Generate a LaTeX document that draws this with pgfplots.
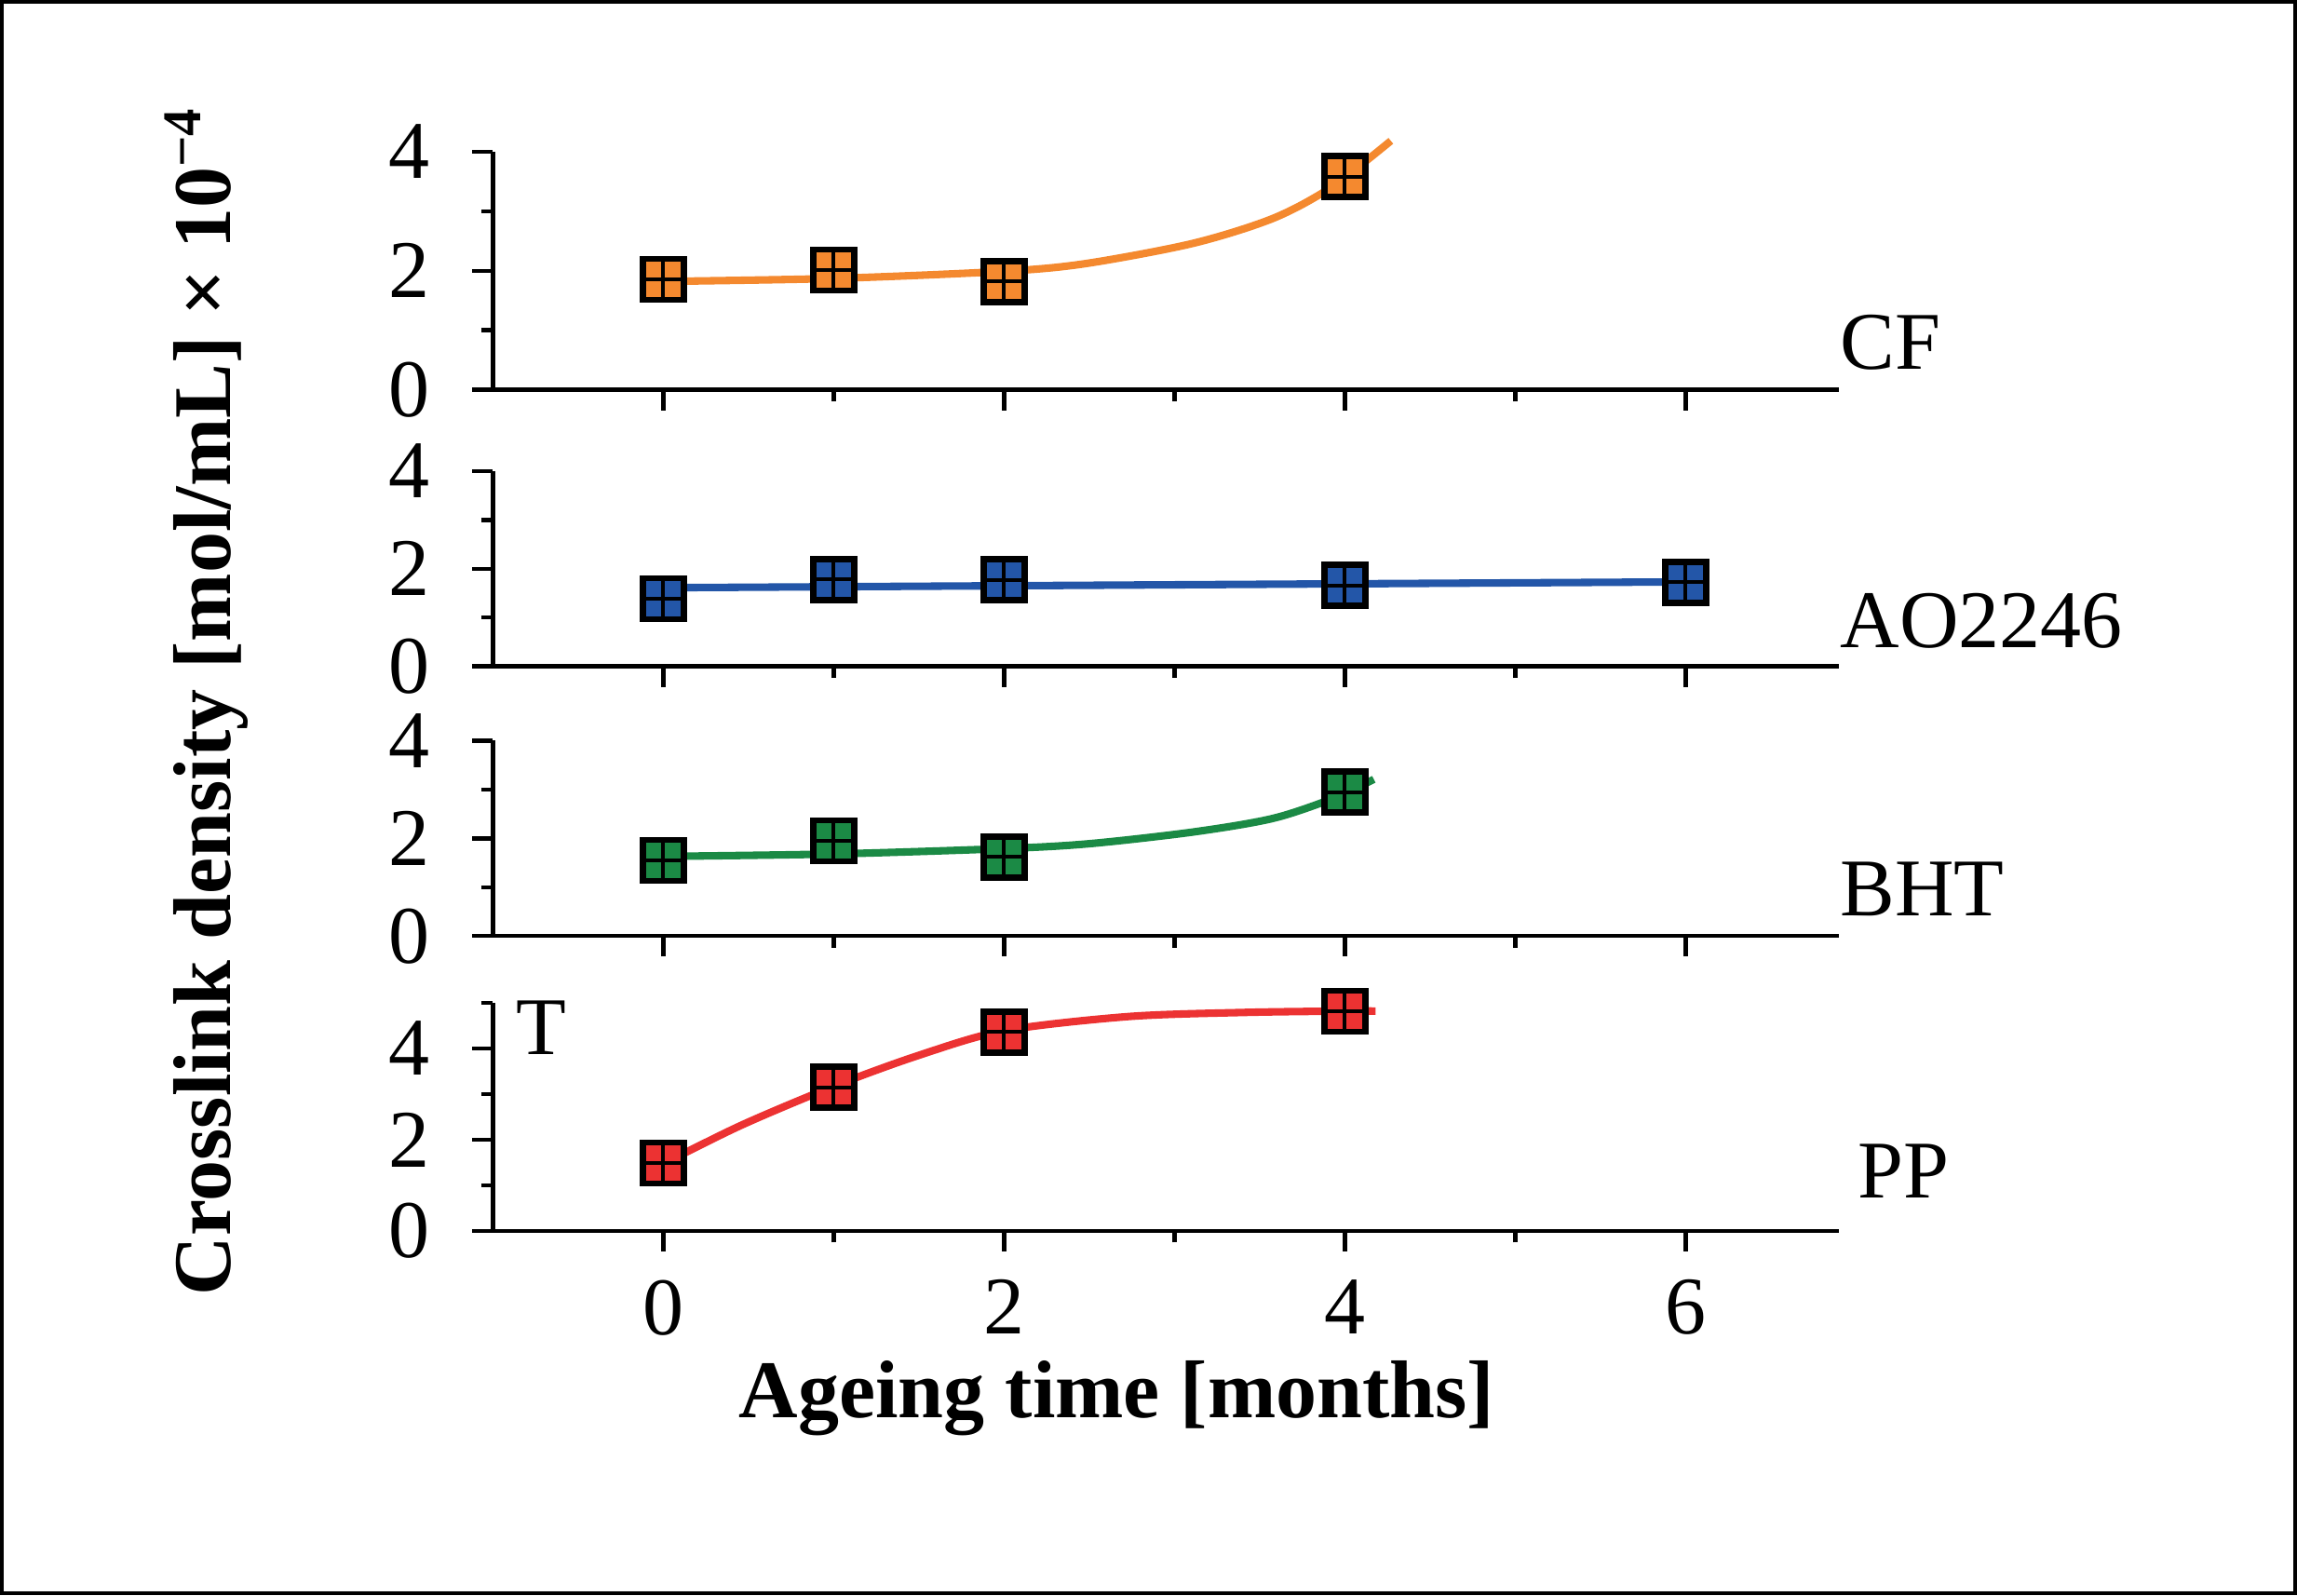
\documentclass[12pt,border=0pt]{standalone}
\usepackage{fontspec}
\setmainfont{Liberation Serif}
\usepackage{pgfplots}
\pgfplotsset{compat=1.18}
\usepackage{pgfplotstable}

\definecolor{cforange}{HTML}{F4892F}
\definecolor{aoblue}{HTML}{2356A8}
\definecolor{bhtgreen}{HTML}{1B8A45}
\definecolor{ppred}{HTML}{EC3232}

% measured points (x = months, y = crosslink density)
\pgfplotstableread{
x y e
0 1.855 0
1 2.01 0
2 1.82 0.09
4 3.58 0.27
}\cfpts
\pgfplotstableread{
x y
0 1.82
1 1.87
2 1.99
2.48 2.12
3.11 2.46
3.58 2.88
3.92 3.40
4.27 4.18
}\cffit

\pgfplotstableread{
x y
0 1.385
1 1.78
2 1.77
4 1.66
6 1.72
}\aopts
\pgfplotstableread{
x y
0 1.61
2 1.65
4 1.69
6 1.73
}\aofit

\pgfplotstableread{
x y
0 1.55
1 1.95
2 1.62
4 2.95
}\bhtpts
\pgfplotstableread{
x y
0 1.63
1 1.68
2 1.79
2.5 1.89
3.11 2.13
3.58 2.41
3.94 2.83
4.17 3.21
}\bhtfit

\pgfplotstableread{
x y
0 1.49
1 3.15
2 4.36
4 4.82
}\pppts
\pgfplotstableread{
x y
0 1.47
0.46 2.32
1 3.17
1.5 3.85
2 4.39
2.73 4.70
3.41 4.79
4 4.82
4.18 4.82
}\ppfit

\pgfplotsset{
  panel/.style={
    scale only axis, width=197.2pt,
    xmin=-1, xmax=6.9, ymin=0,
    axis x line*=bottom, axis y line*=left,
    axis line style={line width=0.6pt, black},
    xtick={0,2,4,6}, minor xtick={1,3,5},
    ytick={0,2,4},
    tick align=outside,
    major tick length=3pt, minor tick length=1.7pt,
    tick style={black, line width=0.6pt},
    yticklabel style={xshift=-2pt},
    /pgf/number format/assume math mode=true,
    ticklabel style={font=\fontsize{12}{14}\selectfont},
    clip=false,
  },
  pts/.style={only marks, mark=square*, mark size=3.0pt,
    mark options={fill=#1, draw=black, line width=0.9pt}},
  cross/.style={only marks, mark=+, mark size=2.6pt,
    mark options={black, line width=0.55pt}},
  fit/.style={no marks, smooth, #1, line width=1.1pt},
}

\begin{document}
\begin{tikzpicture}
\draw[line width=0.6pt] (0.3pt,-0.3pt) rectangle (336.2pt,-233.4pt);

% CF
\begin{axis}[panel, at={(72.2pt,-57.1pt)}, anchor=south west,
  height=34.9pt, ymax=4, minor ytick={1,3}, xticklabels={}]
\addplot[pts=cforange] table[x=x,y=y] {\cfpts};
\addplot[cross] table[x=x,y=y] {\cfpts};
\addplot[only marks, mark=*, mark size=0.01pt, mark options={draw=none, fill=none},
  error bars/.cd, y dir=both, y explicit,
  error bar style={draw=black, line width=0.55pt},
  error mark options={draw=black, rotate=90, mark size=2.6pt, line width=0.55pt}]
  table[x=x,y=y,y error=e] {\cfpts};
\addplot[fit=cforange] table[x=x,y=y] {\cffit};
\node[anchor=base west, inner sep=0, yshift=3pt] at (rel axis cs:1,0) {CF};
\end{axis}

% AO2246
\begin{axis}[panel, at={(72.2pt,-97.6pt)}, anchor=south west,
  height=28.6pt, ymax=4, minor ytick={1,3}, xticklabels={}]
\addplot[pts=aoblue] table[x=x,y=y] {\aopts};
\addplot[cross] table[x=x,y=y] {\aopts};
\addplot[fit=aoblue] table[x=x,y=y] {\aofit};
\node[anchor=base west, inner sep=0, yshift=2.7pt] at (rel axis cs:1,0) {AO2246};
\end{axis}

% BHT
\begin{axis}[panel, at={(72.2pt,-137.1pt)}, anchor=south west,
  height=28.6pt, ymax=4, minor ytick={1,3}, xticklabels={}]
\addplot[pts=bhtgreen] table[x=x,y=y] {\bhtpts};
\addplot[cross] table[x=x,y=y] {\bhtpts};
\addplot[fit=bhtgreen] table[x=x,y=y] {\bhtfit};
\node[anchor=base west, inner sep=0, yshift=3pt] at (rel axis cs:1,0) {BHT};
\end{axis}

% PP
\begin{axis}[panel, at={(72.2pt,-180.3pt)}, anchor=south west,
  height=33.4pt, ymax=5, minor ytick={1,3,5}]
\addplot[pts=ppred] table[x=x,y=y] {\pppts};
\addplot[cross] table[x=x,y=y] {\pppts};
\addplot[fit=ppred] table[x=x,y=y] {\ppfit};
\node[anchor=base west, inner sep=0, xshift=2.6pt, yshift=4.8pt] at (rel axis cs:1,0) {PP};
\node[anchor=north west, inner sep=0, xshift=3.2pt, yshift=0.5pt] at (rel axis cs:0,1) {T};
\end{axis}

\node[rotate=90, anchor=base, font=\bfseries] at (33.7pt,-102.6pt)
  {Crosslink density [mol/mL] × 10\textsuperscript{−4}};
\node[anchor=base, font=\bfseries] at (163.6pt,-207.6pt) {Ageing time [months]};
\end{tikzpicture}
\end{document}
